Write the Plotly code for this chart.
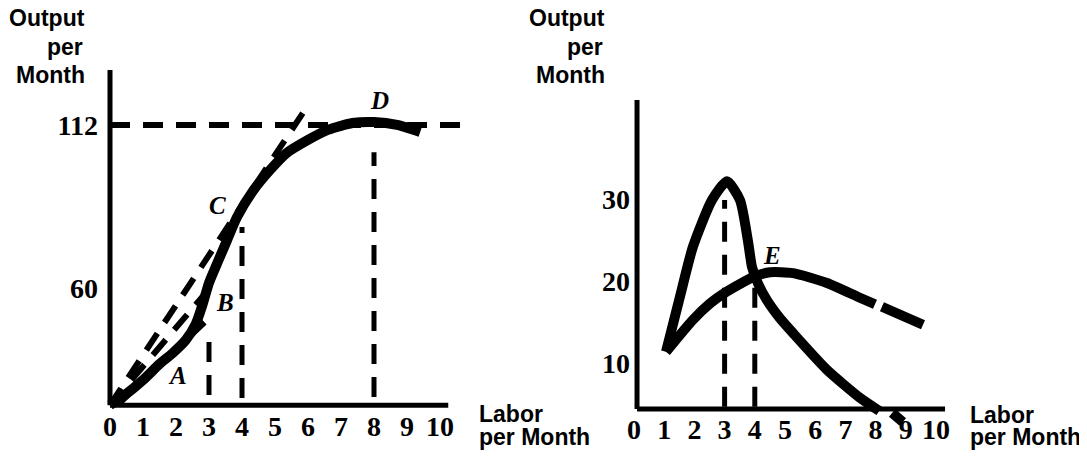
import plotly.graph_objects as go

# the page body adds an 8px margin, so the figure is drawn 8px smaller and shifted
OFF = 8
W, H = 1087 - OFF, 459 - OFF

# ---- data ----
# left panel: total product curve
LABOR_TP = [0, 0.45, 1.0, 1.5, 1.9, 2.3, 2.6, 2.8, 3.0, 3.25, 3.55, 3.85, 4.35,
            4.85, 5.35, 6.0, 6.6, 7.35, 8.0, 8.7, 9.4]
OUTPUT_TP = [22.6, 25.8, 30.6, 35.7, 39.2, 43.4, 48.5, 54.5, 61.6, 67.9, 75.3,
             82.6, 91.2, 97.6, 103.0, 107.2, 110.4, 112.6, 112.9, 112.0, 109.7]

# dashed helper lines on the left panel
RAY_0C_X, RAY_0C_Y = [0, 5.9], [22.6, 116.7]
RAY_0B_X, RAY_0B_Y = [0, 2.9], [22.6, 58.4]
TAN_A_X, TAN_A_Y = [0.25, 3.1], [22.9, 51.4]
MAX_OUT_X, MAX_OUT_Y = [0, 10.65], [112, 112]
DROP_3_X, DROP_3_Y = [3, 3], [25.8, 44.3]
DROP_4_X, DROP_4_Y = [4, 4], [24.9, 79.4]
DROP_8_X, DROP_8_Y = [8, 8], [25.2, 103.3]

# right panel: marginal and average product
LABOR_MP = [1.06, 1.52, 1.95, 2.58, 3.08, 3.51, 3.77, 3.91, 4.11, 4.40, 4.83,
            5.26, 6.39, 7.48, 8.12]
MP = [11.4, 18.1, 24.2, 29.9, 32.2, 29.9, 25.0, 21.7, 19.7, 17.7, 15.5,
      13.7, 9.2, 5.8, 4.2]
LABOR_MP_EXT, MP_EXT = [8.55, 8.9], [3.95, 2.85]

LABOR_AP = [1.06, 1.95, 2.52, 3.01, 3.94, 4.50, 5.26, 6.39, 7.48, 7.98]
AP = [11.4, 15.3, 17.3, 18.6, 20.5, 21.1, 21.0, 19.8, 18.0, 17.2]
LABOR_AP_EXT, AP_EXT = [8.21, 9.57], [16.9, 14.7]

DROP_R3_X, DROP_R3_Y = [3, 3], [4.7, 29.9]
DROP_R4_X, DROP_R4_Y = [4, 4], [4.7, 20.5]

X_TICKS = list(range(11))
LEFT_Y_TICKS = [60, 112]
RIGHT_Y_TICKS = [10, 20, 30]

POINT_LABELS_LEFT = [("A", 2.06, 32.2), ("B", 3.48, 55.5), ("C", 3.27, 86.4), ("D", 8.18, 119.9)]
POINT_LABELS_RIGHT = [("E", 4.57, 23.2)]

# ---- pixel mapping of the two panels (reference pixels) ----
LX0, LXS = 110, 33.0      # px of x=0, px per unit
LY0, LYS = 476, 3.135     # py of y=0, px per unit
RX0, RXS = 634, 30.2
RY0, RYS = 445.3, 8.2


def xrange(d0, d1, x0, s):
    x0 -= OFF
    return [(d0 * W - x0) / s, (d1 * W - x0) / s]


def yrange(y0, s):
    y0 -= OFF
    return [(y0 - H) / s, y0 / s]


fig = go.Figure()


def add_line(x, y, width, dash=None, axes=("x", "y"), shape="linear"):
    fig.add_trace(go.Scatter(
        x=x, y=y, mode="lines", xaxis=axes[0], yaxis=axes[1],
        line=dict(color="black", width=width, dash=dash, shape=shape, smoothing=0.6),
        hoverinfo="skip", showlegend=False,
    ))


DASH = "20px,13px"
# left panel
add_line(MAX_OUT_X, MAX_OUT_Y, 6, DASH)
add_line(DROP_3_X, DROP_3_Y, 5, DASH)
add_line(DROP_4_X, DROP_4_Y, 5, DASH)
add_line(DROP_8_X, DROP_8_Y, 5, DASH)
add_line(RAY_0C_X, RAY_0C_Y, 6, DASH)
add_line(RAY_0B_X, RAY_0B_Y, 6, DASH)
add_line(TAN_A_X, TAN_A_Y, 6, DASH)
add_line(LABOR_TP, OUTPUT_TP, 10, shape="spline")

# right panel
R = ("x2", "y2")
add_line(DROP_R3_X, DROP_R3_Y, 5, DASH, R)
add_line(DROP_R4_X, DROP_R4_Y, 5, DASH, R)
add_line(LABOR_AP, AP, 10, axes=R, shape="spline")
add_line(LABOR_AP_EXT, AP_EXT, 10, axes=R)
add_line(LABOR_MP, MP, 10, axes=R, shape="spline")
add_line(LABOR_MP_EXT, MP_EXT, 10, axes=R)

# axis lines
shapes = [
    dict(type="line", xref="x", yref="y", x0=0, x1=0, y0=22.6, y1=129.5),
    dict(type="line", xref="x", yref="y", x0=0, x1=10.25, y0=22.6, y1=22.6),
    dict(type="line", xref="x2", yref="y2", x0=0.1, x1=0.1, y0=4.43, y1=42.1),
    dict(type="line", xref="x2", yref="y2", x0=0.1, x1=10.3, y0=4.43, y1=4.43),
]
for s in shapes:
    s["line"] = dict(color="black", width=5)

tick_font = dict(family="Liberation Serif", size=28, color="black", weight="bold")
label_font = dict(family="Liberation Sans", size=23, color="black", weight="bold")
axis_common = dict(showgrid=False, zeroline=False, showline=False, ticks="",
                   tickfont=tick_font, anchor="free", tickmode="array")

annotations = []
letter_font = dict(family="Liberation Serif", size=25, color="black")
for txt, x, y in POINT_LABELS_LEFT:
    annotations.append(dict(x=x, y=y, xref="x", yref="y", text=f"<b><i>{txt}</i></b>",
                            showarrow=False, font=letter_font))
for txt, x, y in POINT_LABELS_RIGHT:
    annotations.append(dict(x=x, y=y, xref="x2", yref="y2", text=f"<b><i>{txt}</i></b>",
                            showarrow=False, font=letter_font))


def paper_text(text, px, py, anchor):
    annotations.append(dict(x=(px - OFF) / W, y=1 - (py - OFF) / H, xref="paper", yref="paper",
                            text=text, xanchor=anchor, yanchor="middle", showarrow=False,
                            font=label_font))


for right_px in (87, 607):
    paper_text("Output", right_px, 18, "right")
    paper_text("per", right_px - 2, 47, "right")
    paper_text("Month", right_px, 75, "right")
for left_px, lab_y in [(477, 414), (968, 415)]:
    paper_text("Labor", left_px, lab_y, "left")
    paper_text("per Month", left_px, 437, "left")

fig.update_layout(
    width=W, height=H,
    margin=dict(l=0, r=0, t=0, b=0),
    paper_bgcolor="white", plot_bgcolor="white",
    xaxis=dict(domain=[0, 0.5], range=xrange(0, 0.5, LX0, LXS),
               position=(H - (405 - OFF)) / H, ticklabelstandoff=2,
               tickvals=X_TICKS, **axis_common),
    yaxis=dict(domain=[0, 1], range=yrange(LY0, LYS), position=(110 - OFF) / W,
               ticklabelstandoff=12, tickvals=LEFT_Y_TICKS, **axis_common),
    xaxis2=dict(domain=[0.5, 1], range=xrange(0.5, 1, RX0, RXS),
                position=(H - (409 - OFF)) / H, ticklabelstandoff=1,
                tickvals=X_TICKS, **axis_common),
    yaxis2=dict(domain=[0, 1], range=yrange(RY0, RYS), position=(637 - OFF) / W,
                ticklabelstandoff=7, tickvals=RIGHT_Y_TICKS, **axis_common),
    shapes=shapes,
    annotations=annotations,
)

fig.write_html("out.html")
